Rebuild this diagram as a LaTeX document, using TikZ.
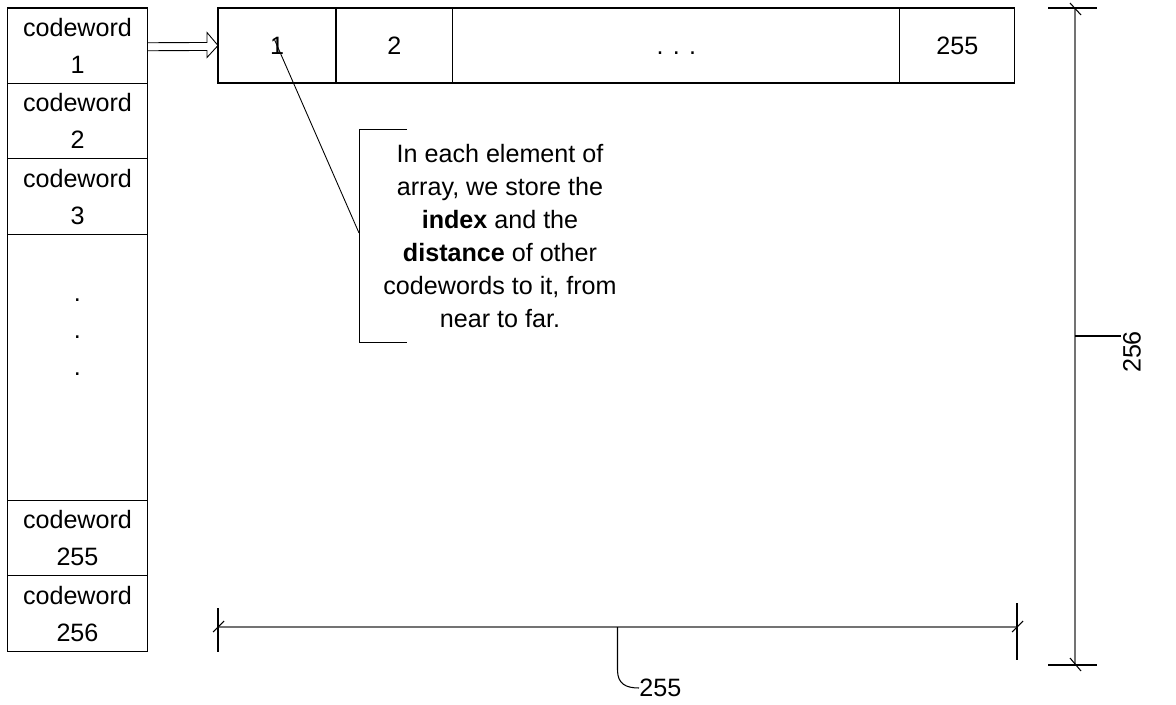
\documentclass[tikz,border=0pt]{standalone}
\usepackage{fontspec}
\setmainfont{Liberation Sans}
\usepackage{tikz}
\usetikzlibrary{positioning,calc}

\begin{document}
\begin{tikzpicture}[
  x=0.02cm, y=-0.02cm,
  font=\fontsize{14.3}{21}\selectfont,
  cell/.style={rectangle, draw=black, line width=0.6pt, minimum width=2.8cm, minimum height=1.51cm, inner sep=0pt, outer sep=0pt, align=center},
  acell/.style={rectangle, draw=black, line width=0.6pt, minimum height=1.5cm, inner sep=0pt, outer sep=0pt},
  dimline/.style={draw=black!55, line width=1.2pt},
  extline/.style={draw=black, line width=0.6pt},
  node distance=0pt,
]
\useasboundingbox (0,0) rectangle (1176,705);

% codeword column
\node[cell, anchor=north west] (cw1) at (7.5,8) {codeword\\1};
\node[cell, below=of cw1] (cw2) {codeword\\2};
\node[cell, below=of cw2] (cw3) {codeword\\3};
\node[cell, below=of cw3, minimum height=5.32cm] (cwdots) {};
\node[cell, below=of cwdots] (cw255) {codeword\\255};
\node[cell, below=of cw255] (cw256) {codeword\\256};
\node[align=center, inner sep=0pt] (dots) at ($(cwdots.north)+(0,103)$) {.\\.\\.};

% distance array
\node[acell, minimum width=2.36cm, anchor=north west] (a1) at (218,8) {1};
\node[acell, minimum width=2.34cm, right=of a1] (a2) {2};
\node[acell, minimum width=8.94cm, right=of a2] (adots) {\vphantom{1}. . .};
\node[acell, minimum width=2.3cm, right=of adots] (a255) {255};

% hollow arrow
\draw[line width=0.5pt] ($(cw1.east)+(0,-3)$) -- ($(a1.west)+(-11,-3)$) -- ($(a1.west)+(-11,-13)$)
  -- (a1.west) -- ($(a1.west)+(-11,12)$) -- ($(a1.west)+(-11,5)$) -- ($(cw1.east)+(0,5)$);

% callout
\node[align=center, inner sep=0pt, font=\fontsize{14.3}{18.7}\selectfont] (note) at (500,236)
  {In each element of\\array, we store the\\\textbf{index} and the\\\textbf{distance} of other\\codewords to it, from\\near to far.};
\coordinate (brtop) at (359,129);
\coordinate (brbot) at (359,342);
\coordinate (lead) at ($(a1.center)+(-3,-7)$);
\draw[line width=0.5pt] ($(brtop)+(48,0)$) -- (brtop) -- (brbot) -- ($(brbot)+(48,0)$);
\draw[line width=0.5pt] (lead) -- ($(brtop)!0.488!(brbot)$);

% horizontal dimension
\coordinate (dl) at (218,627);
\coordinate (dr) at (1017,627);
\draw[dimline] (dl) -- (dr);
\draw[extline] ($(dl)+(0,-19)$) -- ($(dl)+(0,25)$);
\draw[extline] ($(dr)+(0,-24)$) -- ($(dr)+(0,33)$);
\draw[extline] ($(dl)+(-5,5)$) -- ($(dl)+(6,-6)$);
\draw[extline] ($(dr)+(-5,5)$) -- ($(dr)+(6,-6)$);
\node[anchor=west, inner sep=0pt] (w255) at (639,688) {255};
\draw[extline] ($(dl)!0.5!(dr)$) -- ++(0,43) .. controls +(0,14) and (626,688) .. (w255.west);

% vertical dimension
\coordinate (vt) at (1075,8);
\coordinate (vb) at (1075,665);
\coordinate (vm) at (1075,336);
\draw[dimline] (vt) -- (vb);
\draw[extline] ($(vt)+(-27,0)$) -- ($(vt)+(22,0)$);
\draw[extline] ($(vb)+(-27,0)$) -- ($(vb)+(22,0)$);
\draw[extline] ($(vt)+(-5,-5)$) -- ($(vt)+(6,7)$);
\draw[extline] ($(vb)+(-5,-7)$) -- ($(vb)+(6,6)$);
\node[rotate=90, inner sep=1pt] (w256) at (1132,352) {256};
\draw[extline] (vm) -- (w256.north |- vm);
\end{tikzpicture}
\end{document}
